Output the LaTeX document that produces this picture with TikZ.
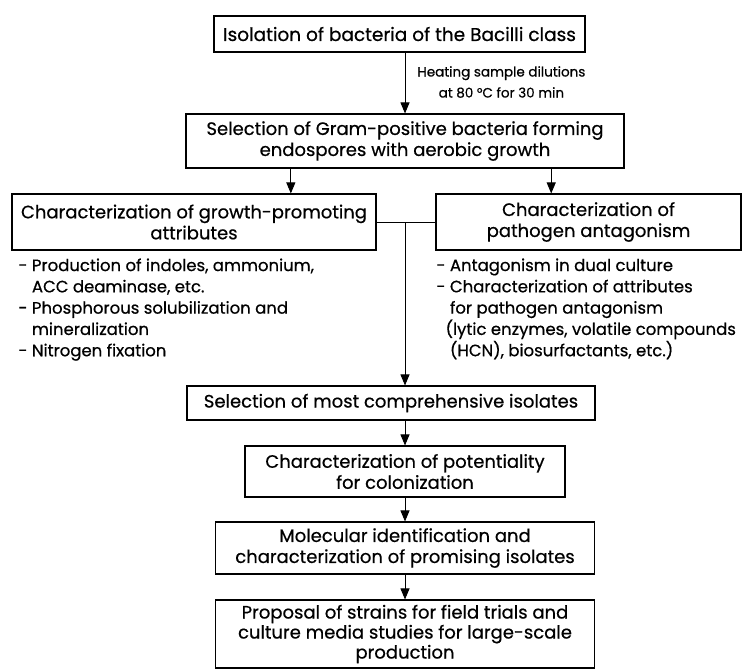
\documentclass[tikz,border=0pt]{standalone}
\usepackage{fontspec}
\setmainfont{Poppins}[FakeBold=0.6]
\usetikzlibrary{positioning,calc,arrows.meta}

\begin{document}
\begin{tikzpicture}[x=1pt,y=-1pt,->,>={Triangle[length=11pt,width=9pt]},
        line width=0.9pt,
        box node/.style={draw,-,line width=1.1pt,align=center,inner sep=0pt,
            font=\fontsize{18}{21}\selectfont},
        list node/.style={align=left,anchor=north west,inner sep=0pt,
            font=\fontsize{16.5}{21.3}\selectfont},
        note node/.style={align=center,inner sep=0pt,
            font=\fontsize{13.5}{21}\selectfont}]

        \useasboundingbox (0,0) rectangle (743,670);

        % Define boxes
        \node[box node,minimum width=371pt,minimum height=36pt,
            font=\fontsize{18.5}{21}\selectfont] (isol) at (399.5,34)
            {Isolation of bacteria of the Bacilli class};
        \node[box node,minimum width=438pt,minimum height=54pt] (gram) at (405,141)
            {Selection of Gram-positive bacteria forming\\endospores with aerobic growth};
        \node[box node,minimum width=364pt,minimum height=56pt] (growth) at (194,222)
            {Characterization of growth-promoting\\attributes};
        \node[box node,minimum width=305pt,minimum height=56pt] (patho) at (588.5,222)
            {Characterization of\\pathogen antagonism};
        \node[box node,minimum width=408pt,minimum height=34pt] (compr) at (391,403)
            {Selection of most comprehensive isolates};
        \node[box node,minimum width=320pt,minimum height=51pt] (colon) at (405,471.5)
            {Characterization of potentiality\\for colonization};
        \node[box node,minimum width=379pt,minimum height=52pt] (molec) at (405,548)
            {Molecular identification and\\characterization of promising isolates};
        \node[box node,minimum width=379pt,minimum height=68pt,
            font=\fontsize{18}{20}\selectfont] (prop) at (405,634)
            {Proposal of strains for field trials and\\culture media studies for large-scale\\production};

        % Notes and lists
        \node[note node,anchor=west] (heat) at (417,82)
            {Heating sample dilutions\\at 80 °C for 30 min};
        \node[list node] (growthlist) at (18,258)
            {- Production of indoles, ammonium,\\
             \phantom{- }ACC deaminase, etc.\\
             - Phosphorous solubilization and\\
             \phantom{- }mineralization\\
             - Nitrogen fixation};
        \node[list node] (patholist) at (436,258)
            {- Antagonism in dual culture\\
             - Characterization of attributes\\
             \phantom{- }for pathogen antagonism\\
             \phantom{-}(lytic enzymes, volatile compounds\\
             \phantom{- }(HCN), biosurfactants, etc.)};

        % Draw edges
        \coordinate (gl) at ($(gram.south west)!0.24!(gram.south east)$);
        \coordinate (gr) at ($(gram.south west)!0.833!(gram.south east)$);
        \coordinate (junc) at (gram.south |- growth.east);
        \draw (gram.north |- isol.south) -- (gram.north);
        \draw (gl) -- (gl |- growth.north);
        \draw (gr) -- (gr |- patho.north);
        \draw[-] (growth.east) -- (patho.west);
        \draw (junc) -- (junc |- compr.north);
        \draw (colon.north |- compr.south) -- (colon.north);
        \path (colon) edge (molec)
            (molec) edge (prop);

        \end{tikzpicture}
\end{document}
